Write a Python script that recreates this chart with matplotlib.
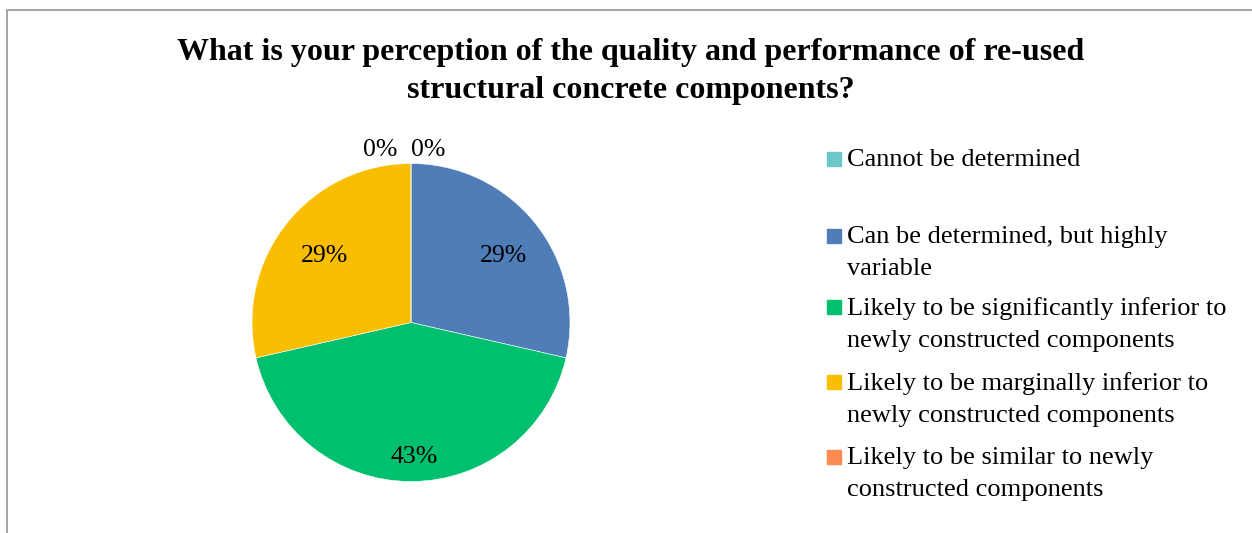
import matplotlib
matplotlib.use("Agg")
import matplotlib.pyplot as plt
from matplotlib.lines import Line2D
from matplotlib.patches import Rectangle
import numpy as np

plt.rcParams['font.family'] = ['Liberation Serif', 'DejaVu Serif']

title = "What is your perception of the quality and performance of re-used\nstructural concrete components?"
labels = ["Cannot be determined",
          "Can be determined, but highly\nvariable",
          "Likely to be significantly inferior to\nnewly constructed components",
          "Likely to be marginally inferior to\nnewly constructed components",
          "Likely to be similar to newly\nconstructed components"]
counts = [0, 2, 3, 2, 0]
colors = ["#6CC7C9", "#4F7DB7", "#00C070", "#F9BE00", "#FC8B52"]

fig = plt.figure(figsize=(12.52, 5.33), dpi=100)
W, H = 1252, 533

# pie axes: centre (411, 322) px, radius 159 px
cx, cy, r = 411, 322.5, 159
ax = fig.add_axes([(cx - r) / W, (H - cy - r) / H, 2 * r / W, 2 * r / H])
wedges, texts, autotexts = ax.pie(counts, colors=colors, startangle=90, counterclock=False,
                                  autopct='%.0f%%', radius=1,
                                  wedgeprops={"edgecolor": "white", "linewidth": 0.4},
                                  textprops={"fontsize": 18.5})
ax.set_xlim(-1, 1)
ax.set_ylim(-1, 1)
ax.axis("off")

# label placement (Excel "best fit")
dists = [1.1, 0.72, 0.82, 0.72, 1.1]
x_shift = [0.107, 0, 0, 0, -0.195]
for i, t in enumerate(autotexts):
    w = wedges[i]
    mid = np.deg2rad((w.theta1 + w.theta2) / 2)
    if counts[i] == 0:
        t.set_position((x_shift[i], dists[i] - 0.015))
    else:
        t.set_position((dists[i] * np.cos(mid) + 0.02, dists[i] * np.sin(mid) - 0.028))
    t.set_ha("center")
    t.set_va("center")

fig.text(631 / W, 1 - 38 / H, title, ha="center", va="top", fontsize=23,
         fontweight="bold", linespacing=1.41)

# legend
leg_y = [159, 236, 307, 382, 457]
for i in range(len(labels)):
    y = leg_y[i]
    fig.add_artist(Rectangle((827 / W, 1 - (y + 7) / H), 14 / W, 14 / H,
                             transform=fig.transFigure, color=colors[i]))
    fig.text(847 / W, 1 - (y - 10) / H, labels[i], ha="left", va="top",
             fontsize=19, linespacing=1.56)

# chart border (top and left edges visible)
bx, by = 7 / W, 1 - 10 / H
fig.add_artist(Line2D([bx, bx, 1], [0, by, by], transform=fig.transFigure,
                      color="#A6A6A6", linewidth=1.5))

fig.savefig("out.png", dpi=100)
